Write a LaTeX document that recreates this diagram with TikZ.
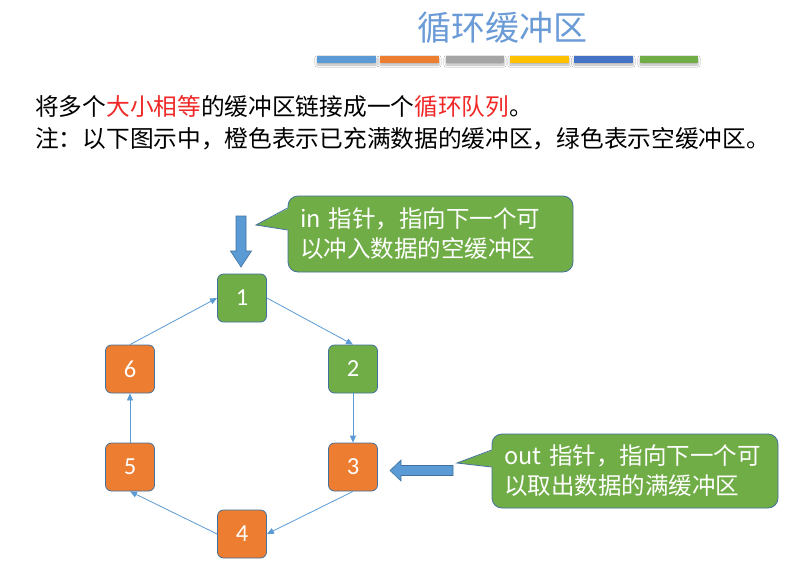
\documentclass[tikz,border=0pt]{standalone}
\usepackage{fontspec}
\setmainfont{Noto Sans CJK SC}
\newfontfamily\numfont{Carlito}
\usetikzlibrary{arrows.meta,shadows.blur}
\definecolor{titleblue}{HTML}{6A9BD6}
\definecolor{cBlue}{HTML}{5B9BD5}
\definecolor{cOrange}{HTML}{ED7D31}
\definecolor{cGray}{HTML}{A5A5A5}
\definecolor{cGold}{HTML}{FFC000}
\definecolor{cDBlue}{HTML}{4472C4}
\definecolor{cGreen}{HTML}{70AD47}
\definecolor{bord}{HTML}{41719C}
\definecolor{hlred}{HTML}{F02828}
\tikzset{
  bar/.style={fill=#1, draw=none, blur shadow={shadow xshift=0pt, shadow yshift=-2pt, shadow blur steps=4, shadow opacity=30}},
  buf/.style={draw=bord, line width=0.8pt, fill=#1, rounded corners=6pt, minimum width=49pt, minimum height=48pt, text=white, font=\numfont\fontsize{24.5}{26}\selectfont, inner sep=0pt},
  link/.style={draw=cBlue, line width=0.8pt, -{Triangle[length=7pt,width=6pt]}},
  callbox/.style={draw=bord, line width=0.8pt, fill=cGreen, rounded corners=10pt, text=white, align=left, inner xsep=12pt, inner ysep=0pt, font=\fontsize{23.5}{30}\selectfont},
  blockarrow/.style={fill=cBlue, draw=bord, line width=0.6pt, line join=miter},
  maintext/.style={anchor=west, inner sep=0pt, font=\fontsize{23.7}{26}\selectfont}
}
\begin{document}
\begin{tikzpicture}[x=1pt,y=-1pt]
\useasboundingbox[fill=white] (0,0) rectangle (811,571);

% title
\node[text=titleblue, font=\fontsize{34}{36}\selectfont, inner sep=0pt] (title) at (502,28) {循环缓冲区};

% colour bars
\foreach \xa/\xb/\c [count=\i] in {317/376/cBlue, 380/439/cOrange, 446/504/cGray, 510/569/cGold, 574/633/cDBlue, 640/698/cGreen}
  \path[bar=\c] (\xa,56) rectangle (\xb,63);

% text lines
\node[maintext] (line1) at (35,107) {将多个\textcolor{hlred}{大小相等}的缓冲区链接成一个\textcolor{hlred}{循环队列}。};
\node[maintext] (line2) at (35,139) {注：以下图示中，橙色表示已充满数据的缓冲区，绿色表示空缓冲区。};

% buffers
\node[buf=cGreen]  (b1) at (242,298) {1};
\node[buf=cGreen]  (b2) at (353,369) {2};
\node[buf=cOrange] (b3) at (353,467) {3};
\node[buf=cOrange] (b4) at (242,534) {4};
\node[buf=cOrange] (b5) at (130,467) {5};
\node[buf=cOrange] (b6) at (130,369) {6};

\draw[link] (b1.east) -- (b2.north);
\draw[link] (b2.south) -- (b3.north);
\draw[link] (b3.south) -- (b4.east);
\draw[link] (b4.west) -- (b5.south);
\draw[link] (b5.north) -- (b6.south);
\draw[link] (b6.north) -- (b1.west);

% in pointer arrow
\path[blockarrow] (236,216) -- (246,216) -- (246,251) -- (251.5,251) -- (241,267) -- (230.5,251) -- (236,251) -- cycle;
% out pointer arrow
\path[blockarrow] (453,465.5) -- (453,475.5) -- (401,475.5) -- (401,481) -- (390,470.5) -- (401,460) -- (401,465.5) -- cycle;

% in callout
\node[callbox, minimum width=285pt, minimum height=76pt, text width=261pt] (incall) at (430.5,234) {in 指针，指向下一个可\\以冲入数据的空缓冲区};
\fill[cGreen] (289.2,208) -- (256,225) -- (289.2,230) -- cycle;
\draw[bord, line width=0.8pt, line join=miter] (incall.west |- 0,208) -- (256,225) -- (incall.west |- 0,230);

% out callout
\node[callbox, minimum width=286pt, minimum height=74pt, text width=262pt] (outcall) at (635,471) {out 指针，指向下一个可\\以取出数据的满缓冲区};
\fill[cGreen] (493.2,450) -- (457,463) -- (493.2,467) -- cycle;
\draw[bord, line width=0.8pt, line join=miter] (outcall.west |- 0,450) -- (457,463) -- (outcall.west |- 0,467);
\end{tikzpicture}
\end{document}
